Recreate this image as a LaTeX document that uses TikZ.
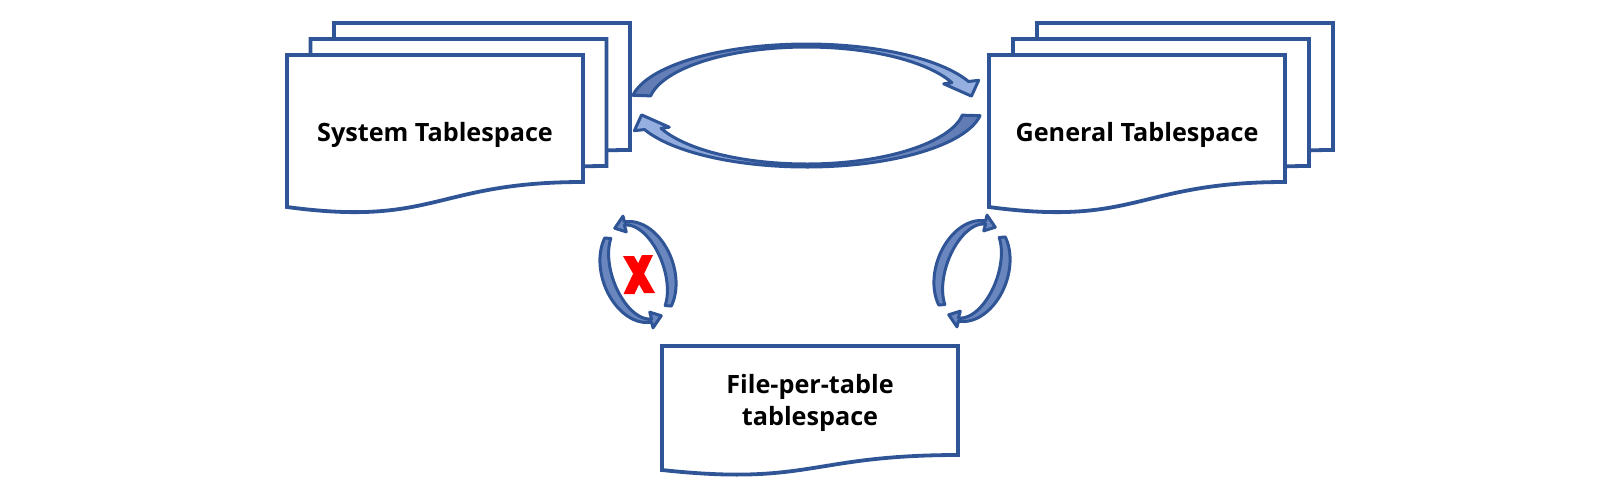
\documentclass[tikz,border=0pt]{standalone}
\usepackage{fontspec}
\setmainfont{Open Sans}
\definecolor{dblue}{HTML}{2F5597}
\definecolor{lblue}{HTML}{97B2E2}
\definecolor{mblue}{HTML}{5F7AB3}
\definecolor{sblue}{HTML}{6A86BF}
\newcommand\docshape[6]{% x0, y0, w, yR, yL, yC
  \draw[docstyle] (#1,#2) -- ({#1+#3},#2) -- ({#1+#3},{#2+#4})
    .. controls ({#1+#3/2},{#2+#4}) and ({#1+#3/2},{#2+#6}) .. (#1,{#2+#5}) -- cycle;}
\newcommand\ringarrow[4]{% t1, tb, tt, style
  \draw[#4] plot[domain=#1:#2,samples=60] ({\arA*cos(\x)},{\arB*sin(\x)})
    -- ({(\arA+\arHOA)*cos(#2)},{(\arB+\arHOB)*sin(#2)})
    -- ({(\arA-\arWA/2)*cos(#3)},{(\arB-\arWB/2)*sin(#3)})
    -- ({(\arA-\arWA-\arHIA)*cos(#2)},{(\arB-\arWB-\arHIB)*sin(#2)})
    -- plot[domain=#2:#1,samples=60] ({(\arA-\arWA)*cos(\x)},{(\arB-\arWB)*sin(\x)})
    -- cycle;}
\begin{document}
\begin{tikzpicture}[x=0.5pt,y=-0.5pt,
  docstyle/.style={draw=dblue, line width=1.9pt, fill=white, line join=miter},
  lbl/.style={font=\fontsize{12.6}{15}\selectfont\bfseries, text=black, inner sep=0pt},
  bigarr/.style={draw=dblue, line width=1.5pt, line join=round},
  smallarr/.style={draw=dblue, line width=1.5pt, line join=round, fill=sblue}]
\useasboundingbox (0,0) rectangle (1621,495);
% System Tablespace stack
\docshape{334}{23}{296}{127}{152}{172}
\docshape{310.5}{39}{296}{127}{152}{172}
\docshape{287}{55}{296}{127}{152}{172}
% General Tablespace stack
\docshape{1037}{23}{296}{127}{152}{172}
\docshape{1013}{39}{296}{127}{152}{172}
\docshape{989}{55}{296}{127}{152}{172}
% File-per-table
\docshape{662}{346}{296}{109}{124}{140}
\node[lbl, anchor=base] (sys) at (435,141) {System Tablespace};
\node[lbl, anchor=base] (gen) at (1137,141) {General Tablespace};
\node[lbl, anchor=base] (fpt1) at (810,393) {File-per-table};
\node[lbl, anchor=base] (fpt2) at (810,425) {tablespace};
% big circular arrows
\begin{scope}[shift={(806.5,105.5)}]
  \def\arA{176}\def\arB{61.5}\def\arWA{18}\def\arWB{3}
  \def\arHOA{11}\def\arHOB{3}\def\arHIA{9}\def\arHIB{3}
  \ringarrow{-170.5}{-23}{-9}{bigarr, left color=mblue, right color=lblue}
  \ringarrow{9.5}{157}{171}{bigarr, left color=lblue, right color=mblue}
\end{scope}
% left small circular arrows
\begin{scope}[shift={(638,272)}, rotate=19.3]
  \def\arA{36}\def\arB{52}\def\arWA{10}\def\arWB{3}
  \def\arHOA{5}\def\arHOB{6}\def\arHIA{5}\def\arHIB{7}
  \ringarrow{56}{-84}{-104}{smallarr}
  \ringarrow{-124}{-264}{-284}{smallarr}
\end{scope}
% right small circular arrows
\begin{scope}[shift={(972,271)}, rotate=-19.3]
  \def\arA{36}\def\arB{52}\def\arWA{10}\def\arWB{3}
  \def\arHOA{5}\def\arHOB{6}\def\arHIA{5}\def\arHIB{7}
  \ringarrow{124}{264}{284}{smallarr}
  \ringarrow{-56}{84}{104}{smallarr}
\end{scope}
% red cross
\fill[red] (623,256) -- (634,256) -- (655,293) -- (644,293) -- cycle;
\fill[red] (642,255) -- (653,255) -- (634.5,294) -- (623.5,294) -- cycle;
\end{tikzpicture}
\end{document}
